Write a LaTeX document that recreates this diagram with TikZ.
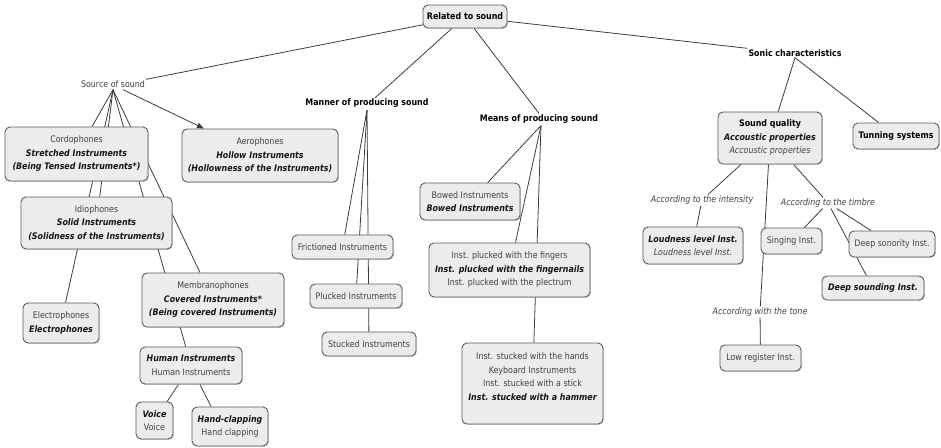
\documentclass[tikz,border=0pt]{standalone}
\usepackage{fontspec}
\setmainfont{DejaVu Sans}[FakeStretch=0.88]
\usetikzlibrary{backgrounds,shadows,arrows.meta}
\definecolor{boxfill}{HTML}{ECECEC}
\definecolor{boxline}{HTML}{5A5A5A}
\definecolor{linkline}{HTML}{3C3C3C}
\definecolor{softtext}{HTML}{404040}
\definecolor{strongtext}{HTML}{151515}
\newcommand{\bi}[1]{{\color{strongtext}\bfseries\itshape #1}}
\newcommand{\mapfont}{\fontsize{9}{13.5}\selectfont}

\begin{document}
\begin{tikzpicture}[x=1pt,y=-1pt,
  concept/.style={draw=boxline, fill=boxfill, line width=0.9pt, rounded corners=5pt,
    align=center, inner sep=1pt, font=\mapfont, text=softtext,
    drop shadow={shadow xshift=0.9pt, shadow yshift=-0.9pt, opacity=0.35}},
  phrase/.style={inner sep=1pt, font=\mapfont, text=softtext},
  bphrase/.style={inner sep=1pt, font=\mapfont\bfseries, text=black},
  iphrase/.style={inner sep=1pt, font=\mapfont\itshape, text=softtext},
  link/.style={draw=linkline, line width=0.8pt}]

\useasboundingbox (0,0) rectangle (941,447);

% root
\node[concept, minimum width=84pt, minimum height=23pt, font=\mapfont\bfseries, text=black]
  (rel) at (465,16.5) {Related to sound};

% linking phrases
\node[phrase]  (src)    at (113,84)  {Source of sound};
\node[bphrase] (manner) at (367,103.5) {Manner of producing sound};
\node[bphrase] (means)  at (539,119) {Means of producing sound};
\node[bphrase] (sonic)  at (795,53)  {Sonic characteristics};
\node[iphrase] (intens) at (702,200) {According to the intensity};
\node[iphrase] (timbre) at (828,203) {According to the timbre};
\node[iphrase] (tone)   at (760,312) {According with the tone};

% source of sound
\node[concept, minimum width=143pt, minimum height=54pt] (cordo) at (76.5,154)
  {Cordophones\\ \bi{Stretched Instruments}\\ \bi{(Being Tensed Instruments*)}};
\node[concept, minimum width=156pt, minimum height=53pt] (aero) at (260,155.5)
  {Aerophones\\ \bi{Hollow Instruments}\\ \bi{(Hollowness of the Instruments)}};
\node[concept, minimum width=151pt, minimum height=52pt] (idio) at (96.5,223)
  {Idiophones\\ \bi{Solid Instruments}\\ \bi{(Solidness of the Instruments)}};
\node[concept, minimum width=76pt, minimum height=40pt] (electro) at (61,323)
  {Electrophones\\ \bi{Electrophones}};
\node[concept, minimum width=142pt, minimum height=54pt] (membra) at (213,300)
  {Membranophones\\ \bi{Covered Instruments*}\\ \bi{(Being covered Instruments)}};
\node[concept, minimum width=102pt, minimum height=37pt] (human) at (191,365.5)
  {\bi{Human Instruments}\\ Human Instruments};
\node[concept, minimum width=37pt, minimum height=37pt] (voice) at (154.5,420.5)
  {\bi{Voice}\\ Voice};
\node[concept, minimum width=76pt, minimum height=39pt] (hand) at (230,426.5)
  {\bi{Hand-clapping}\\ Hand clapping};

% manner of producing sound
\node[concept, minimum width=101pt, minimum height=24pt] (fric) at (342.5,247) {Frictioned Instruments};
\node[concept, minimum width=92pt, minimum height=24pt] (pluck) at (356,296) {Plucked Instruments};
\node[concept, minimum width=94pt, minimum height=24pt] (stuck) at (369,344) {Stucked Instruments};

% means of producing sound
\node[concept, minimum width=100pt, minimum height=37pt] (bowed) at (470,201.5)
  {Bowed Instruments\\ \bi{Bowed Instruments}};
\node[concept, minimum width=161pt, minimum height=54pt] (plinst) at (509.5,270)
  {Inst. plucked with the fingers\\ \bi{Inst. plucked with the fingernails}\\ Inst. plucked with the plectrum};
\node[concept, minimum width=141pt, minimum height=81pt] (stinst) at (532.5,383.5)
  {Inst. stucked with the hands\\ Keyboard Instruments\\ Inst. stucked with a stick\\ \bi{Inst. stucked with a hammer}\\ \mbox{}};

% sonic characteristics
\node[concept, minimum width=104pt, minimum height=52pt] (sq) at (770,138)
  {{\color{black}\bfseries Sound quality}\\ \bi{Accoustic properties}\\ \textit{Accoustic properties}};
\node[concept, minimum width=86pt, minimum height=26pt, font=\mapfont\bfseries, text=black]
  (tun) at (896,136) {Tunning systems};
\node[concept, minimum width=100pt, minimum height=37pt] (loud) at (693,245.5)
  {\bi{Loudness level Inst.}\\ \textit{Loudness level Inst.}};
\node[concept, minimum width=61pt, minimum height=26pt] (sing) at (791.5,241) {Singing Inst.};
\node[concept, minimum width=86pt, minimum height=26pt] (deepson) at (892,244) {Deep sonority Inst.};
\node[concept, minimum width=102pt, minimum height=24pt] (deepsnd) at (873,288) {\bi{Deep sounding Inst.}};
\node[concept, minimum width=81pt, minimum height=26pt] (low) at (760.5,358) {Low register Inst.};

% connectors, drawn behind the boxes
\begin{scope}[on background layer]
  \coordinate (srcpt) at ([yshift=-1pt]src.south);
  \coordinate (manpt) at ([yshift=-1pt]manner.south);
  \coordinate (meanspt) at ([xshift=2pt,yshift=-1pt]means.south);
  \coordinate (sonicpt) at (sonic.south);

  \draw[link] (rel) -- (src.north east);
  \draw[link] (rel) -- ([xshift=8pt]manner.north);
  \draw[link] (rel) -- (means.north);
  \draw[link] (rel) -- (sonic.north west);

  \draw[link] (srcpt) -- (cordo);
  \draw[link] (srcpt) -- (idio);
  \draw[link] (srcpt) -- (electro);
  \draw[link] (srcpt) -- (membra);
  \draw[link] (srcpt) -- (human);
  \draw[link, -{Triangle[length=7pt,width=5.5pt]}] ([xshift=10pt]srcpt) -- (aero);
  \draw[link] (human) -- (voice);
  \draw[link] ([xshift=9pt]human.south) -- ([xshift=-19pt]hand.north);

  \draw[link] (manpt) -- (fric);
  \draw[link] (manpt) -- (pluck);
  \draw[link] (manpt) -- (stuck);

  \draw[link] (meanspt) -- (bowed);
  \draw[link] (meanspt) -- (plinst);
  \draw[link] (meanspt) -- (stinst);

  \draw[link] (sonicpt) -- (sq);
  \draw[link] (sonicpt) -- (tun);
  \draw[link] (sq) -- (intens);
  \draw[link] (intens) -- (loud);
  \draw[link] (sq) -- (tone);
  \draw[link] (tone) -- (low);
  \draw[link] (sq) -- (timbre);
  \draw[link] (timbre) -- (sing);
  \draw[link] (timbre) -- (deepson);
  \draw[link] (timbre) -- (deepsnd);
\end{scope}
\end{tikzpicture}
\end{document}
